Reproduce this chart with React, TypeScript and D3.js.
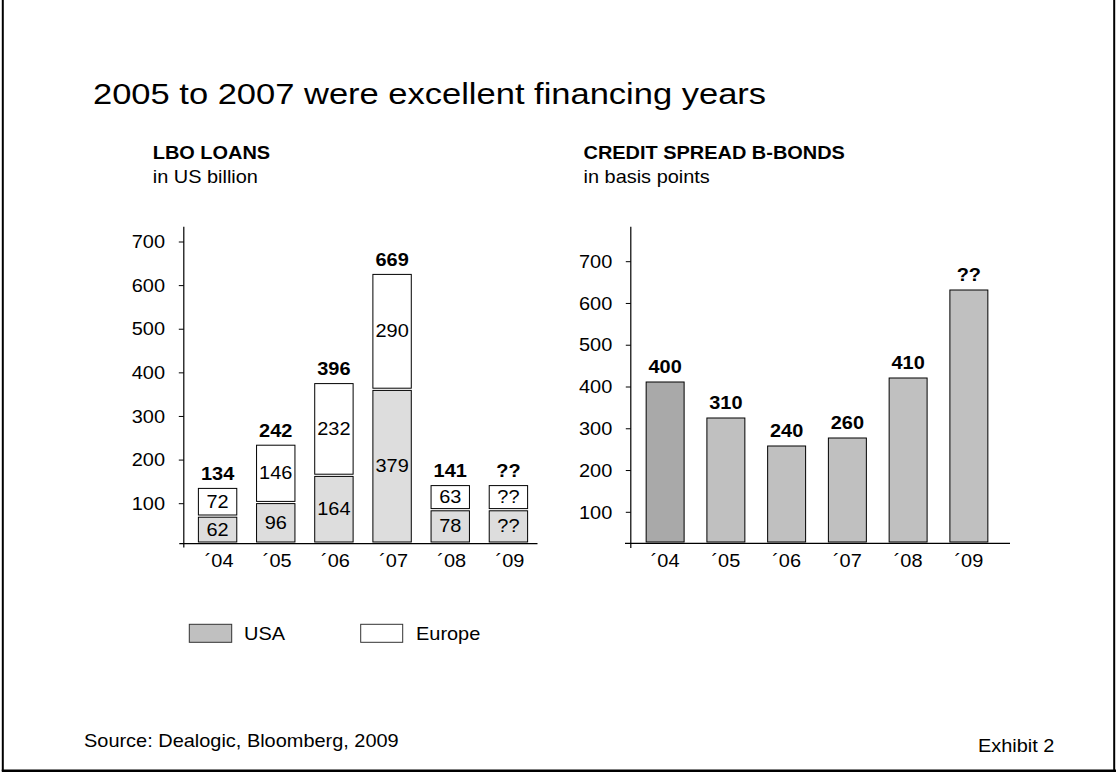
import React from "react";
import * as d3 from "d3";

const years = ["´04", "´05", "´06", "´07", "´08", "´09"];
const usaValues = [62, 96, 164, 379, 78, 78];
const europeValues = [72, 146, 232, 290, 63, 63];
const usaLabels = ["62", "96", "164", "379", "78", "??"];
const europeLabels = ["72", "146", "232", "290", "63", "??"];
const totalLabels = ["134", "242", "396", "669", "141", "??"];
const spreadValues = [400, 310, 240, 260, 410, 630];
const spreadLabels = ["400", "310", "240", "260", "410", "??"];
const tickValues = [100, 200, 300, 400, 500, 600, 700];

const FONT = "'Liberation Sans', Arial, Helvetica, sans-serif";
const SX = 1.14;
const FS = 17.5;

function T(props: any) {
  const { x, y, size = FS, weight = "normal", anchor = "start", sx = SX, children } = props;
  return (
    <text
      transform={`translate(${x},${y}) scale(${sx},1)`}
      fontSize={size}
      fontWeight={weight}
      textAnchor={anchor}
      fontFamily={FONT}
      fill="#000"
    >
      {children}
    </text>
  );
}

export default function App() {
  // value scale for bars (shared baseline)
  const yBar = d3.scaleLinear().domain([0, 700]).range([542, 262]);
  // axis tick scales
  const yTickL = d3.scaleLinear().domain([100, 700]).range([503.7, 242]);
  const yTickR = d3.scaleLinear().domain([100, 700]).range([512.3, 261.7]);

  const xL = d3.scaleBand().domain(years).range([188.5, 537.5]).paddingInner(0.34).paddingOuter(0.17);
  const xR = d3.scaleBand().domain(years).range([634, 1000]).paddingInner(0.375).paddingOuter(0.2);

  const gap = 2.2;

  return (
    <svg
      width={1116}
      height={773}
      style={{ position: "absolute", left: 0, top: 0, background: "#fff" }}
    >
      {/* slide border */}
      <line x1={2.8} y1={0} x2={2.8} y2={771} stroke="#000" strokeWidth={2} />
      <line x1={1.8} y1={770.8} x2={1116} y2={770.8} stroke="#000" strokeWidth={2.6} />
      <line x1={1114.2} y1={0} x2={1114.2} y2={771} stroke="#000" strokeWidth={2} />

      {/* title */}
      <T x={93} y={104} size={29} sx={1.19}>2005 to 2007 were excellent financing years</T>

      {/* left chart headings */}
      <T x={152.7} y={159} weight="bold">LBO LOANS</T>
      <T x={152.7} y={183.3}>in US billion</T>

      {/* right chart headings */}
      <T x={583.5} y={159} weight="bold">CREDIT SPREAD B-BONDS</T>
      <T x={583.5} y={183.3}>in basis points</T>

      {/* LEFT CHART */}
      <g>
        {years.map((yr, i) => {
          const x0 = xL(yr)!;
          const w = xL.bandwidth();
          const usaTop = yBar(usaValues[i]);
          const totTop = yBar(usaValues[i] + europeValues[i]);
          const eurBottom = usaTop - gap;
          const cx = x0 + w / 2;
          return (
            <g key={yr}>
              <rect x={x0} y={usaTop} width={w} height={yBar(0) - usaTop} fill="#dddddd" stroke="#000" strokeWidth={1} />
              <rect x={x0} y={totTop} width={w} height={eurBottom - totTop} fill="#fff" stroke="#000" strokeWidth={1} />
              <T x={cx} y={(usaTop + yBar(0)) / 2 + 6} anchor="middle">{usaLabels[i]}</T>
              <T x={cx} y={(totTop + eurBottom) / 2 + 6} anchor="middle">{europeLabels[i]}</T>
              <T x={cx} y={totTop - 8.5} anchor="middle" weight="bold">{totalLabels[i]}</T>
              <T x={cx + 1.5} y={566.7} anchor="middle">{yr}</T>
            </g>
          );
        })}
        <line x1={183.8} y1={226.7} x2={183.8} y2={547.5} stroke="#000" strokeWidth={1.2} />
        <line x1={179.3} y1={543.6} x2={537.5} y2={543.6} stroke="#000" strokeWidth={1.2} />
        {tickValues.map((t) => (
          <g key={"lt" + t}>
            <line x1={178.8} x2={183.8} y1={yTickL(t)} y2={yTickL(t)} stroke="#000" strokeWidth={1} />
            <T x={165} y={yTickL(t) + 6.2} anchor="end">{String(t)}</T>
          </g>
        ))}
      </g>

      {/* legend */}
      <rect x={189.3} y={624.3} width={42.4} height={18} fill="#c0c0c0" stroke="#333" strokeWidth={1} />
      <T x={244} y={639.5}>USA</T>
      <rect x={360.7} y={624.3} width={42} height={18} fill="#fff" stroke="#333" strokeWidth={1} />
      <T x={416} y={639.5}>Europe</T>

      {/* RIGHT CHART */}
      <g>
        {years.map((yr, i) => {
          const x0 = xR(yr)!;
          const w = xR.bandwidth();
          const top = yBar(spreadValues[i]);
          const cx = x0 + w / 2;
          return (
            <g key={"r" + yr}>
              <rect x={x0} y={top} width={w} height={yBar(0) - top} fill={i === 0 ? "#a9a9a9" : "#c0c0c0"} stroke="#000" strokeWidth={1} />
              <T x={cx} y={top - 9.5} anchor="middle" weight="bold">{spreadLabels[i]}</T>
              <T x={cx} y={566.7} anchor="middle">{yr}</T>
            </g>
          );
        })}
        <line x1={630.8} y1={226.7} x2={630.8} y2={548} stroke="#000" strokeWidth={1.2} />
        <line x1={625} y1={543.3} x2={1010} y2={543.3} stroke="#000" strokeWidth={1.2} />
        {tickValues.map((t) => (
          <g key={"rt" + t}>
            <line x1={625.8} x2={630.8} y1={yTickR(t)} y2={yTickR(t)} stroke="#000" strokeWidth={1} />
            <T x={612.3} y={yTickR(t) + 6.2} anchor="end">{String(t)}</T>
          </g>
        ))}
      </g>

      {/* footer */}
      <T x={84} y={747}>Source: Dealogic, Bloomberg, 2009</T>
      <T x={978} y={752}>Exhibit 2</T>
    </svg>
  );
}
